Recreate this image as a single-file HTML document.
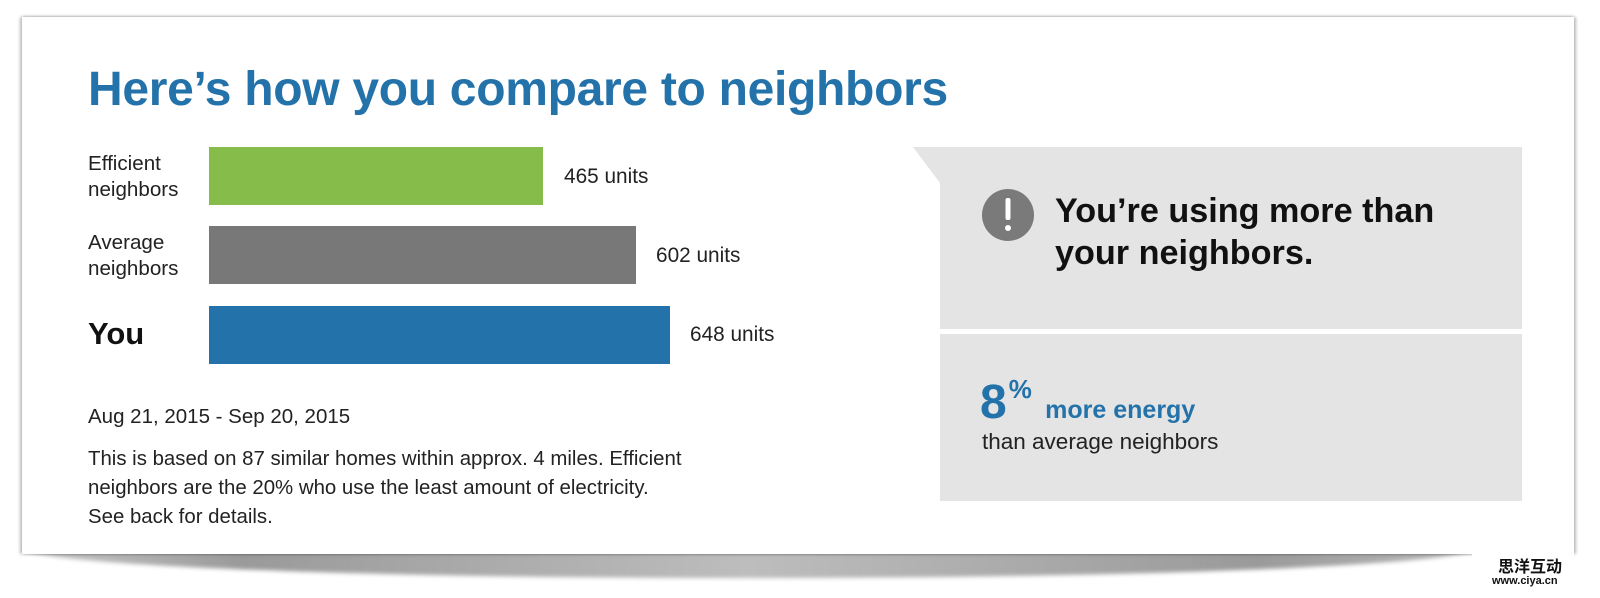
<!DOCTYPE html>
<html><head><meta charset="utf-8"><style>
*{margin:0;padding:0;box-sizing:border-box}
body{width:1600px;height:598px;background:#fff;position:relative;overflow:hidden;font-family:"Liberation Sans",Arial,sans-serif;color:#222}
.abs{position:absolute;white-space:nowrap}
#shadow{position:absolute;left:24px;top:548px;width:1450px;height:30px;background:linear-gradient(to right,#c8c8c8,#9a9a9a 15%,#bdbdbd 50%,#9a9a9a 85%,#b8b8b8);border-radius:0 0 50% 50%/0 0 100% 100%;filter:blur(2px)}
#card{position:absolute;left:22px;top:17px;width:1552px;height:537px;background:#fff;box-shadow:-2px 0 3px rgba(0,0,0,.25),2px 0 3px rgba(0,0,0,.25),0 -1px 3px rgba(0,0,0,.06)}
.bar{position:absolute;left:209px;height:58px}
.lbl{font-size:20.6px;line-height:26px;color:#222}
.val{font-size:20.8px;color:#222}
</style></head><body>
<div id="shadow"></div>
<div id="card"></div>
<div class="abs" style="left:88px;top:62px;font-size:48px;font-weight:bold;color:#2472aa;letter-spacing:-0.3px;line-height:56px">Here’s how you compare to neighbors</div>

<div class="abs lbl" style="left:88px;top:151px">Efficient<br>neighbors</div>
<div class="bar" style="top:147px;width:334px;background:#86bd4a"></div>
<div class="abs val" style="left:564px;top:165px">465 units</div>

<div class="abs lbl" style="left:88px;top:230px">Average<br>neighbors</div>
<div class="bar" style="top:226px;width:427px;background:#787878"></div>
<div class="abs val" style="left:656px;top:244px">602 units</div>

<div class="abs" style="left:88px;top:316px;font-size:31px;font-weight:bold;color:#111">You</div>
<div class="bar" style="top:306px;width:461px;background:#2472aa"></div>
<div class="abs val" style="left:690px;top:323px">648 units</div>

<div class="abs" style="left:88px;top:405px;font-size:20.5px">Aug 21, 2015 - Sep 20, 2015</div>
<div class="abs" style="left:88px;top:445px;font-size:20.4px;line-height:29px">This is based on 87 similar homes within approx. 4 miles. Efficient<br>neighbors are the 20% who use the least amount of electricity.<br>See back for details.</div>

<svg class="abs" style="left:0;top:0" width="1600" height="598">
<polygon points="913,147 1522,147 1522,329 940,329 940,183" fill="#e4e4e4"/>
<rect x="940" y="334" width="582" height="167" fill="#e4e4e4"/>
<circle cx="1008" cy="215" r="26" fill="#7a7a7a"/>
<rect x="1005.5" y="198" width="5" height="22" rx="2" fill="#fff"/>
<circle cx="1008" cy="228" r="3" fill="#fff"/>
</svg>
<div class="abs" style="left:1055px;top:190px;font-size:34.2px;font-weight:bold;color:#111;line-height:42px">You’re using more than<br>your neighbors.</div>
<div class="abs" style="left:980px;top:361px;font-size:48px;font-weight:bold;color:#2472aa;line-height:56px">8<span style="font-size:26px;vertical-align:20px;margin-left:2px">%</span> <span style="font-size:25px">more energy</span></div>
<div class="abs" style="left:982px;top:429px;font-size:22.5px;color:#222">than average neighbors</div>

<div class="abs" style="left:1472px;top:554px;width:102px;height:36px;background:#fff"></div>
<div class="abs" style="left:1498px;top:556px;font-family:'Noto Sans CJK SC',sans-serif;font-size:16px;font-weight:bold;line-height:18px;color:#111">思洋互动</div>
<div class="abs" style="left:1492px;top:575px;font-size:11px;font-weight:bold;color:#111">www.ciya.cn</div>
</body></html>
